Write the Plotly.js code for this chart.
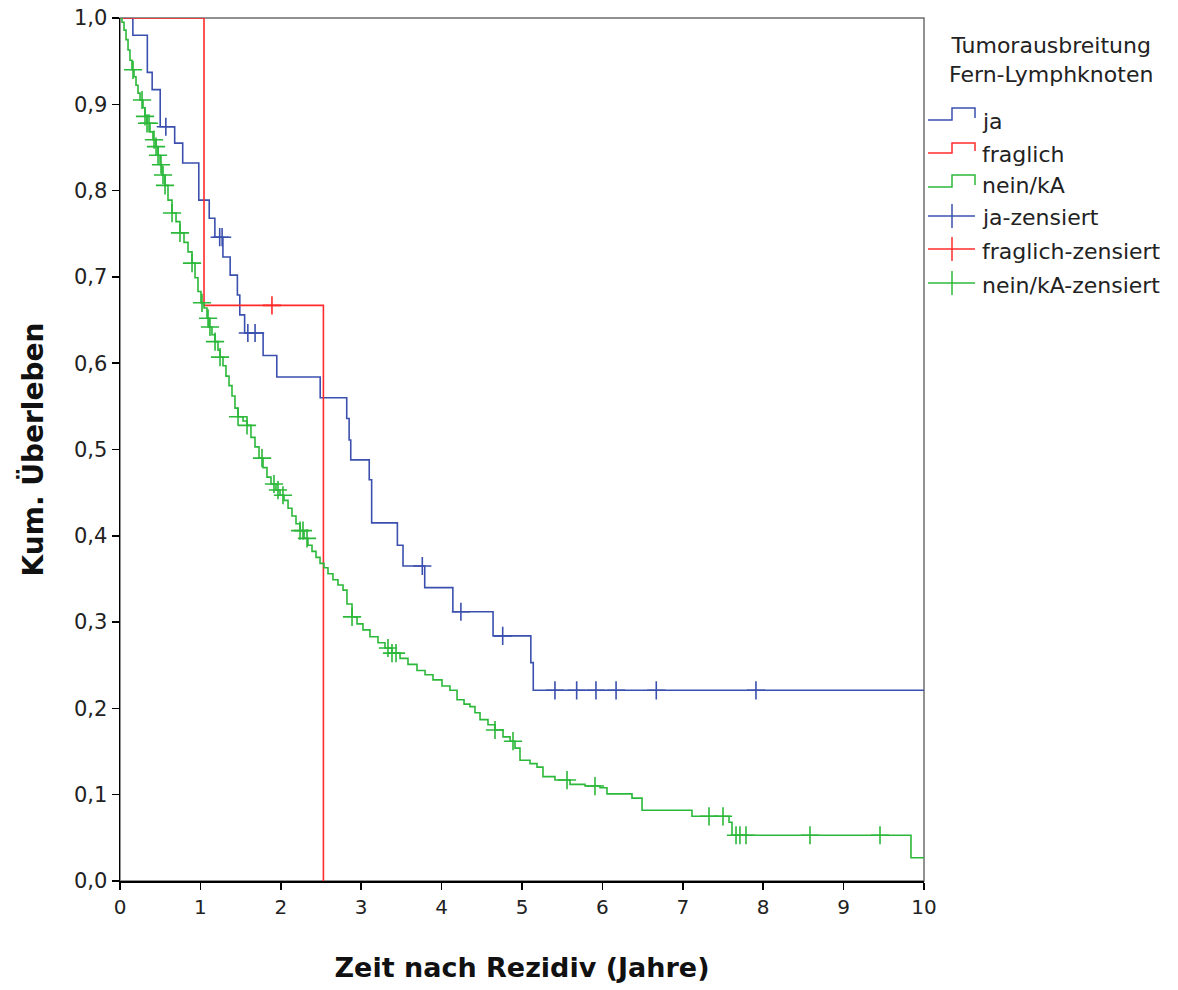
<!DOCTYPE html>
<html>
<head>
<meta charset="utf-8">
<script src="https://cdn.plot.ly/plotly-3.0.1.min.js"></script>
<style>html,body{margin:0;padding:0;background:#fff;}#chart{width:1178px;height:990px;}</style>
</head>
<body>
<div id="chart"></div>
<script>
// ---- Data ----
const jaTimes = [0, 0.16, 0.34, 0.40, 0.50, 0.68, 0.78, 0.98, 1.11, 1.18, 1.28, 1.37, 1.46, 1.49, 1.55, 1.78, 1.95, 2.49, 2.82, 2.85, 2.87, 3.10, 3.13, 3.45, 3.52, 3.79, 4.14, 4.64, 5.11, 5.14, 10.0];
const jaSurv  = [1.0, 0.98, 0.937, 0.917, 0.874, 0.855, 0.832, 0.789, 0.768, 0.746, 0.723, 0.702, 0.679, 0.656, 0.635, 0.609, 0.584, 0.560, 0.536, 0.511, 0.488, 0.465, 0.415, 0.389, 0.365, 0.340, 0.312, 0.284, 0.253, 0.221, 0.221];
const jaCensor = [0.57, 1.24, 1.27, 1.59, 1.68, 3.76, 4.24, 4.76, 5.41, 5.68, 5.92, 6.17, 6.67, 7.91];

const fragTimes = [0, 1.045, 2.53];
const fragSurv  = [1.0, 0.667, 0.0];
const fragCensor = [1.89];

const neinTimes = [0, 0.025, 0.05, 0.075, 0.10, 0.124, 0.149, 0.174, 0.199, 0.224, 0.249, 0.286, 0.311, 0.336, 0.373, 0.410, 0.448, 0.473, 0.498, 0.522, 0.560, 0.597, 0.647, 0.697, 0.746, 0.796, 0.846, 0.896, 0.933, 0.970, 1.007, 1.045, 1.082, 1.107, 1.144, 1.182, 1.219, 1.244, 1.281, 1.318, 1.356, 1.393, 1.430, 1.468, 1.530, 1.580, 1.629, 1.679, 1.729, 1.779, 1.828, 1.878, 1.940, 1.990, 2.040, 2.090, 2.139, 2.189, 2.239, 2.289, 2.338, 2.388, 2.438, 2.488, 2.537, 2.587, 2.649, 2.711, 2.774, 2.823, 2.886, 2.948, 3.022, 3.109, 3.209, 3.296, 3.383, 3.483, 3.582, 3.694, 3.794, 3.893, 4.005, 4.104, 4.192, 4.279, 4.353, 4.415, 4.478, 4.577, 4.664, 4.764, 4.851, 4.913, 4.975, 5.100, 5.187, 5.261, 5.410, 5.597, 5.784, 5.970, 6.057, 6.368, 6.493, 7.114, 7.575, 7.612, 9.838, 10.0];
const neinSurv  = [1.0, 0.995, 0.986, 0.975, 0.963, 0.951, 0.940, 0.932, 0.922, 0.913, 0.905, 0.896, 0.886, 0.878, 0.868, 0.859, 0.851, 0.841, 0.830, 0.818, 0.806, 0.789, 0.774, 0.764, 0.751, 0.740, 0.729, 0.716, 0.699, 0.683, 0.670, 0.664, 0.652, 0.642, 0.633, 0.625, 0.615, 0.607, 0.597, 0.585, 0.574, 0.562, 0.548, 0.538, 0.533, 0.528, 0.514, 0.503, 0.490, 0.479, 0.468, 0.460, 0.453, 0.447, 0.441, 0.432, 0.423, 0.414, 0.406, 0.397, 0.389, 0.382, 0.375, 0.368, 0.363, 0.356, 0.349, 0.343, 0.337, 0.321, 0.306, 0.298, 0.291, 0.283, 0.276, 0.270, 0.264, 0.258, 0.251, 0.244, 0.239, 0.233, 0.226, 0.221, 0.210, 0.205, 0.202, 0.195, 0.187, 0.181, 0.175, 0.167, 0.162, 0.154, 0.140, 0.136, 0.132, 0.121, 0.117, 0.112, 0.110, 0.108, 0.101, 0.096, 0.082, 0.075, 0.068, 0.053, 0.027, 0.027];
const neinCensor = [0.162, 0.274, 0.311, 0.336, 0.361, 0.423, 0.448, 0.473, 0.510, 0.535, 0.560, 0.647, 0.746, 0.896, 1.020, 1.095, 1.119, 1.182, 1.244, 1.468, 1.580, 1.766, 1.915, 1.965, 2.027, 2.239, 2.276, 2.326, 2.886, 3.333, 3.383, 3.433, 4.664, 4.888, 5.560, 5.908, 7.326, 7.500, 7.662, 7.711, 7.786, 8.582, 9.453];

const xTickVals = [0,1,2,3,4,5,6,7,8,9,10];
const xTickText = ["0","1","2","3","4","5","6","7","8","9","10"];
const yTickVals = [0,0.1,0.2,0.3,0.4,0.5,0.6,0.7,0.8,0.9,1.0];
const yTickText = ["0,0","0,1","0,2","0,3","0,4","0,5","0,6","0,7","0,8","0,9","1,0"];

const legendTitle = "Tumorausbreitung<br>Fern-Lymphknoten";
const groupNames = ["ja", "fraglich", "nein/kA"];
const censorNames = ["ja-zensiert", "fraglich-zensiert", "nein/kA-zensiert"];
const xTitle = "Zeit nach Rezidiv (Jahre)";
const yTitle = "Kum. Überleben";

// ---- Styles ----
const colors = ["#3b50ae", "#ff2b2b", "#2cb83a"];
const FONT = "DejaVu Sans, Verdana, sans-serif";

function survAt(times, surv, t) {
  let s = surv[0];
  for (let i = 0; i < times.length; i++) { if (times[i] <= t) s = surv[i]; else break; }
  return s;
}

const groups = [
  {t: jaTimes, s: jaSurv, c: jaCensor},
  {t: fragTimes, s: fragSurv, c: fragCensor},
  {t: neinTimes, s: neinSurv, c: neinCensor}
];

const traces = [];
groups.forEach((g, i) => {
  traces.push({x: g.t, y: g.s, type: 'scatter', mode: 'lines', line: {shape: 'hv', color: colors[i], width: 1.6}, name: groupNames[i], showlegend: false, hoverinfo: 'skip'});
});
groups.forEach((g, i) => {
  traces.push({x: g.c, y: g.c.map(t => survAt(g.t, g.s, t)), type: 'scatter', mode: 'markers',
    marker: {symbol: 'cross-thin-open', size: 13, color: colors[i], line: {color: colors[i], width: 1.6}}, name: censorNames[i], showlegend: false, hoverinfo: 'skip'});
});

// ---- Layout geometry ----
const L = 120, R = 924, T = 18, B = 881;
const px = x => (x - L) / (R - L);
const py = y => (B - y) / (B - T);

const LEGFONT = {family: FONT, size: 22, color: '#222'};
const shapes = [
  {type: 'rect', xref: 'paper', yref: 'paper', x0: 0, x1: 1, y0: 0, y1: 1, line: {color: '#6e6e6e', width: 1.5}, layer: 'below'}
];
const annotations = [
  {xref: 'paper', yref: 'paper', x: px(1051), y: py(60), text: legendTitle, showarrow: false, xanchor: 'center', yanchor: 'middle', align: 'center', font: LEGFONT}
];
const stepY = [[120, 108], [153, 143], [187, 175]];
const labelY = [122, 154, 185];
groupNames.forEach((n, i) => {
  const [lo, hi] = stepY[i];
  shapes.push({type: 'path', xref: 'paper', yref: 'paper',
    path: `M${px(928)},${py(lo)} L${px(952)},${py(lo)} L${px(952)},${py(hi)} L${px(975)},${py(hi)} L${px(975)},${py(lo - 2)}`,
    line: {color: colors[i], width: 1.5}});
  annotations.push({xref: 'paper', yref: 'paper', x: px(980), y: py(labelY[i]), text: n, showarrow: false, xanchor: 'left', yanchor: 'middle', font: LEGFONT});
});
const cenY = [216, 249, 283];
censorNames.forEach((n, i) => {
  const yc = cenY[i];
  shapes.push({type: 'line', xref: 'paper', yref: 'paper', x0: px(928), x1: px(975), y0: py(yc), y1: py(yc), line: {color: colors[i], width: 1.5}});
  shapes.push({type: 'line', xref: 'paper', yref: 'paper', x0: px(952), x1: px(952), y0: py(yc - 12), y1: py(yc + 12), line: {color: colors[i], width: 1.5}});
  annotations.push({xref: 'paper', yref: 'paper', x: px(980), y: py(yc + 2), text: n, showarrow: false, xanchor: 'left', yanchor: 'middle', font: LEGFONT});
});

const layout = {
  width: 1178, height: 990,
  margin: {l: L, r: 1178 - R, t: T, b: 990 - B, pad: 0},
  paper_bgcolor: '#fff', plot_bgcolor: '#fff',
  showlegend: false,
  font: {family: FONT, size: 21, color: '#222'},
  xaxis: {range: [0, 10], tickvals: xTickVals, ticktext: xTickText, showgrid: false, zeroline: false,
    showline: true, linecolor: '#000', linewidth: 1.5, ticks: 'outside', ticklen: 7, tickwidth: 1.5, tickcolor: '#000',
    tickfont: {family: FONT, size: 20, color: '#222'},
    title: {text: '<b>' + xTitle + '</b>', font: {family: FONT, size: 27, color: '#111'}, standoff: 40}},
  yaxis: {range: [0, 1], tickvals: yTickVals, ticktext: yTickText, showgrid: false, zeroline: false,
    showline: true, linecolor: '#000', linewidth: 1.5, ticks: 'outside', ticklen: 7, tickwidth: 1.5, tickcolor: '#000',
    tickfont: {family: FONT, size: 21, color: '#222'},
    title: {text: '<b>' + yTitle + '</b>', font: {family: FONT, size: 28, color: '#111'}, standoff: 22}},
  shapes: shapes,
  annotations: annotations
};

Plotly.newPlot('chart', traces, layout, {staticPlot: true, displayModeBar: false});
</script>
</body>
</html>
